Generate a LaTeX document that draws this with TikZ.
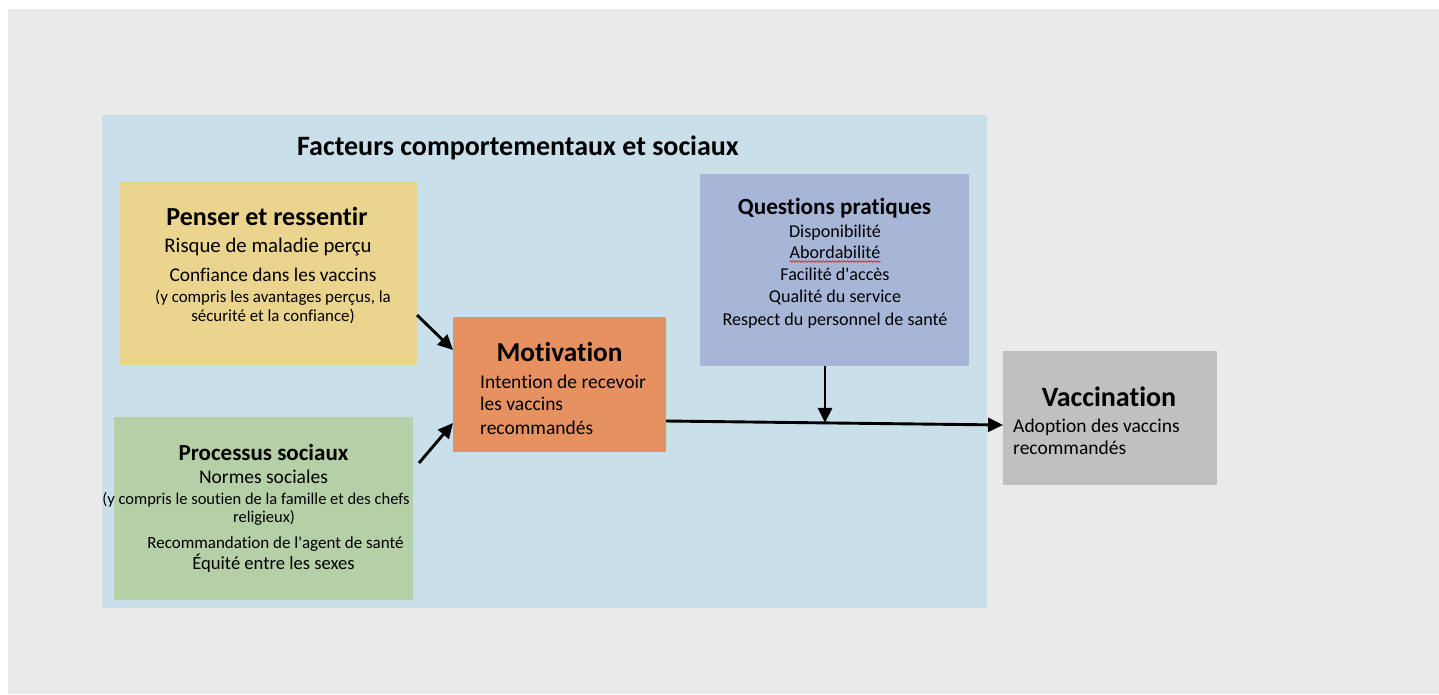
\documentclass[tikz,border=0pt]{standalone}
\usepackage{fontspec}
\setmainfont{Carlito}[Ligatures=CommonOff]
\usetikzlibrary{arrows.meta,decorations.pathmorphing,calc}
\definecolor{bggray}{HTML}{EAEAEA}
\definecolor{panelblue}{HTML}{C9E0EB}
\definecolor{boxyellow}{HTML}{EAD48E}
\definecolor{boxgreen}{HTML}{B5CFA6}
\definecolor{boxorange}{HTML}{E6915F}
\definecolor{boxpurple}{HTML}{A7B6D7}
\definecolor{boxgray}{HTML}{C0BFC1}
\newcommand{\myfs}[1]{\fontsize{#1}{#1}\selectfont}
\begin{document}
\begin{tikzpicture}[x=1pt,y=-1pt,
  box/.style={rectangle, draw=none, inner sep=0pt, outer sep=0pt, anchor=north west},
  lbl/.style={inner sep=0pt, anchor=base, text=black},
  lbll/.style={inner sep=0pt, anchor=base west, text=black},
  arr/.style={line width=2.9pt, -{Triangle[length=15pt,width=14pt]}},
]
\fill[white] (0,0) rectangle (1439,694);
\useasboundingbox (0,0) rectangle (1439,694);
\fill[bggray] (8,9) rectangle (1439,694);

% boxes
\node[box, fill=panelblue, minimum width=885pt, minimum height=493pt] (panel) at (102,115) {};
\node[box, fill=boxyellow, minimum width=297pt, minimum height=183pt] (yel) at (120,182) {};
\node[box, fill=boxgreen, minimum width=299pt, minimum height=183pt] (grn) at (114,417) {};
\node[box, fill=boxorange, minimum width=213pt, minimum height=135pt] (mot) at (453,317) {};
\node[box, fill=boxpurple, minimum width=269pt, minimum height=192pt] (qp) at (700,174) {};
\node[box, fill=boxgray, minimum width=214pt, minimum height=134pt] (vac) at (1003,351) {};

% panel title
\node[lbl, font=\bfseries\myfs{28}] (ttl) at (518,155) {Facteurs comportementaux et sociaux};

% yellow box text
\node[lbl, font=\bfseries\myfs{26}] (y1) at (267,225) {Penser et ressentir};
\node[lbl, font=\myfs{20.8}] (y2) at (268,252) {Risque de maladie perçu};
\node[lbl, font=\myfs{19.4}] (y3) at (273,281) {Confiance dans les vaccins};
\node[lbl, font=\myfs{16.9}] (y4) at (273,302) {(y compris les avantages perçus, la};
\node[lbl, font=\myfs{16.9}] (y5) at (273,321) {sécurité et la confiance)};

% green box text
\node[lbl, font=\bfseries\myfs{23}] (g1) at (263.5,460) {Processus sociaux};
\node[lbl, font=\myfs{19.5}] (g2) at (263.5,483) {Normes sociales};
\node[lbl, font=\myfs{16.5}] (g3) at (256,504.5) {(y compris le soutien de la famille et des chefs};
\node[lbl, font=\myfs{16.5}] (g4) at (264,522.5) {religieux)};
\node[lbl, font=\myfs{17}] (g5) at (275.5,548.5) {Recommandation de l\textquotesingle agent de santé};
\node[lbl, font=\myfs{18.6}] (g6) at (273.5,569) {Équité entre les sexes};

% motivation text
\node[lbl, font=\bfseries\myfs{27.3}] (m1) at (559.5,361) {Motivation};
\node[lbll, font=\myfs{19.5}] (m2) at (480,388) {Intention de recevoir};
\node[lbll, font=\myfs{19.5}] (m3) at (480,410) {les vaccins};
\node[lbll, font=\myfs{19.5}] (m4) at (480,434) {recommandés};

% questions pratiques text
\node[lbl, font=\bfseries\myfs{23.2}] (q1) at (834.5,214) {Questions pratiques};
\node[lbl, font=\myfs{18.1}] (q2) at (835,237.5) {Disponibilité};
\node[lbl, font=\myfs{18.1}] (q3) at (835,258.5) {Abordabilité};
\node[lbl, font=\myfs{18.1}] (q4) at (835,280.5) {Facilité d\textquotesingle accès};
\node[lbl, font=\myfs{18.1}] (q5) at (835,302.5) {Qualité du service};
\node[lbl, font=\myfs{18.1}] (q6) at (835,325.5) {Respect du personnel de santé};
\draw[red, line width=0.6pt, decorate, decoration={snake, amplitude=0.8pt, segment length=3pt}]
  ([yshift=-3pt]q3.base west) -- ([yshift=-3pt]q3.base east);

% vaccination text
\node[lbl, font=\bfseries\myfs{28}] (v1) at (1109,406) {Vaccination};
\node[lbll, font=\myfs{19.5}] (v2) at (1013,432) {Adoption des vaccins};
\node[lbll, font=\myfs{19.5}] (v3) at (1013,454) {recommandés};

% connectors
\draw[arr] ([yshift=50pt]yel.south east) -- ([yshift=-33pt]mot.north west);
\draw[arr] ([xshift=6pt,yshift=-46pt]grn.north east) -- ([yshift=29pt]mot.south west);
\draw[arr] ([yshift=31pt]mot.south east) -- ([yshift=60pt]vac.south west)
  coordinate[pos=0.4718] (j);
\draw[arr] (qp.south -| j) -- (j);
\end{tikzpicture}
\end{document}
